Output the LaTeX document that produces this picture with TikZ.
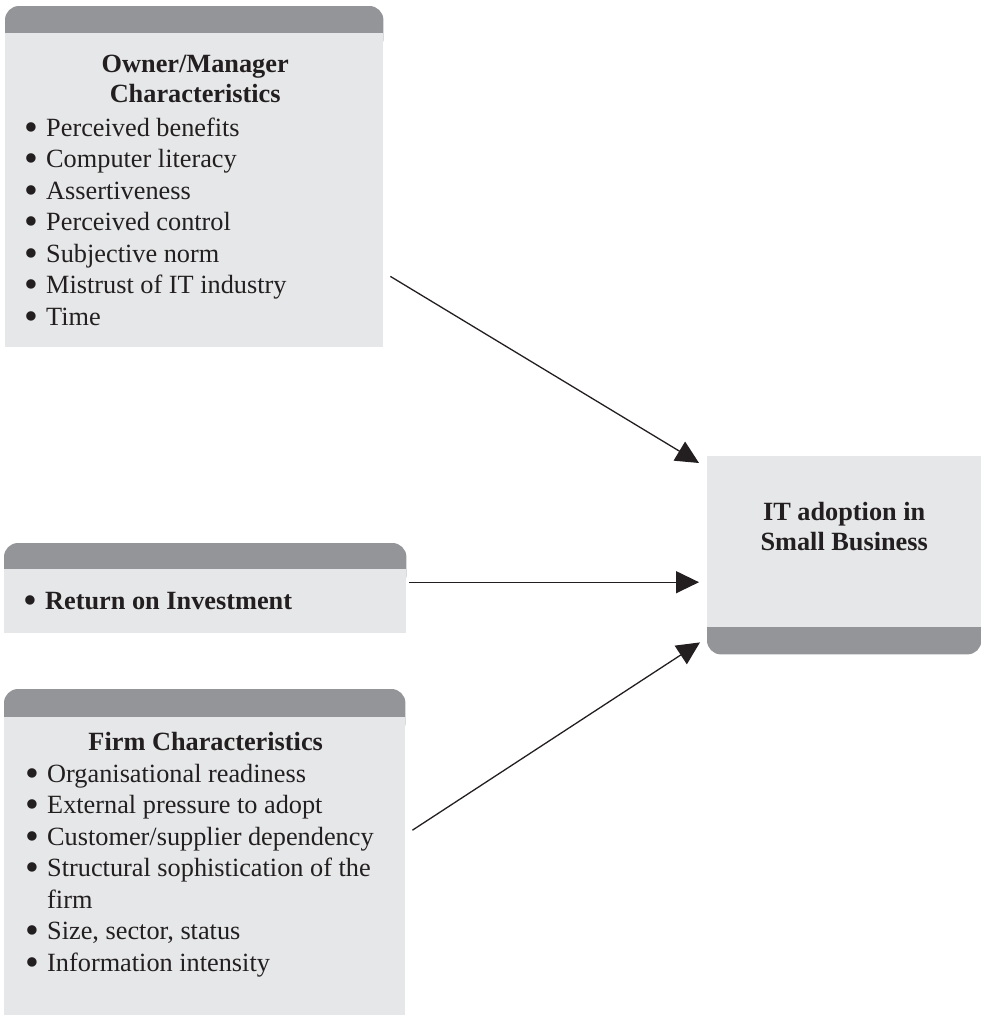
\documentclass[tikz,border=0pt]{standalone}
\usepackage{fontspec}
\setmainfont{Liberation Serif}
\usetikzlibrary{arrows.meta, positioning, backgrounds}

\definecolor{bodygray}{HTML}{E6E7E8}
\definecolor{headgray}{HTML}{939598}
\definecolor{inkblack}{HTML}{231F20}

\tikzset{
    mybody/.style = {
        rectangle,
        fill=bodygray,
        inner sep=0pt,
        anchor=north west
    },
    myhead/.style = {
        fill=headgray,
        rounded corners=14pt
    },
    mytitle/.style = {
        font=\fontsize{26.3}{30}\selectfont\bfseries,
        text=inkblack,
        align=center,
        inner sep=0pt,
        anchor=base
    },
    mylist/.style = {
        font=\fontsize{26.3}{31.5}\selectfont,
        text=inkblack,
        inner sep=0pt,
        anchor=base west
    },
    myarrow/.style = {
        line width=1.3pt,
        draw=inkblack,
        -{Triangle[length=23pt, width=22pt]}
    }
}

\newcommand{\mybullet}{\smash{\raisebox{-4pt}{\scalebox{1.5}{\textbullet}}}}
\newcommand{\bulletlist}[1]{\begin{tabular}[t]{@{}p{22pt}@{}l@{}}#1\end{tabular}}

\begin{document}
\begin{tikzpicture}[x=1pt, y=-1pt]

\useasboundingbox (0,0) rectangle (981,1015);

% Kasten
\node (owner) [mybody, minimum width=378pt, minimum height=314pt] at (5,33) {};
\node (roi) [mybody, minimum width=402pt, minimum height=64pt] at (4,569) {};
\node (firm) [mybody, minimum width=401pt, minimum height=298pt] at (4,717) {};
\node (itbox) [mybody, minimum width=274pt, minimum height=171pt] at (707,456) {};

% Kopf- und Fussleisten
\begin{scope}[on background layer]
\fill [myhead] ([yshift=27pt]owner.north west) rectangle ([yshift=-20pt]owner.north east);
\fill [myhead] ([yshift=26pt]roi.north west) rectangle ([yshift=-20pt]roi.north east);
\fill [myhead] ([yshift=28pt]firm.north west) rectangle ([yshift=-20pt]firm.north east);
\fill [myhead] ([yshift=20pt]itbox.south west) rectangle ([yshift=-27pt]itbox.south east);
\end{scope}

% Texte
\node (ownertitle) [mytitle, xshift=1pt, yshift=-69pt] at (owner.north) {Owner/Manager\\Characteristics};
\node (ownerlist) [mylist, xshift=19pt, yshift=-103pt] at (owner.north west) {\bulletlist{
    \mybullet & Perceived benefits\\
    \mybullet & Computer literacy\\
    \mybullet & Assertiveness\\
    \mybullet & Perceived control\\
    \mybullet & Subjective norm\\
    \mybullet & Mistrust of IT industry\\
    \mybullet & Time}};

\node (roilist) [mylist, xshift=19pt, yshift=-40pt] at (roi.north west) {\bulletlist{
    \mybullet & \textbf{Return on Investment}}};

\node (firmtitle) [mytitle, xshift=1pt, yshift=-33pt] at (firm.north) {Firm Characteristics};
\node (firmlist) [mylist, xshift=21pt, yshift=-65pt] at (firm.north west) {\bulletlist{
    \mybullet & Organisational readiness\\
    \mybullet & External pressure to adopt\\
    \mybullet & Customer/supplier dependency\\
    \mybullet & Structural sophistication of the\\
              & firm\\
    \mybullet & Size, sector, status\\
    \mybullet & Information intensity}};

\node (ittitle) [mytitle, yshift=-94pt] at (itbox.north) {IT adoption in\\Small Business};

% Pfeile
\draw [myarrow] ([xshift=7pt, yshift=71pt]owner.south east) -- ([xshift=-8pt, yshift=-7pt]itbox.north west);
\draw [myarrow] ([xshift=3pt, yshift=19pt]roi.east) -- ([xshift=-8pt, yshift=-40.5pt]itbox.west);
\draw [myarrow] ([xshift=7pt, yshift=36pt]firm.east) -- ([xshift=-7pt, yshift=-15pt]itbox.south west);

\end{tikzpicture}
\end{document}
